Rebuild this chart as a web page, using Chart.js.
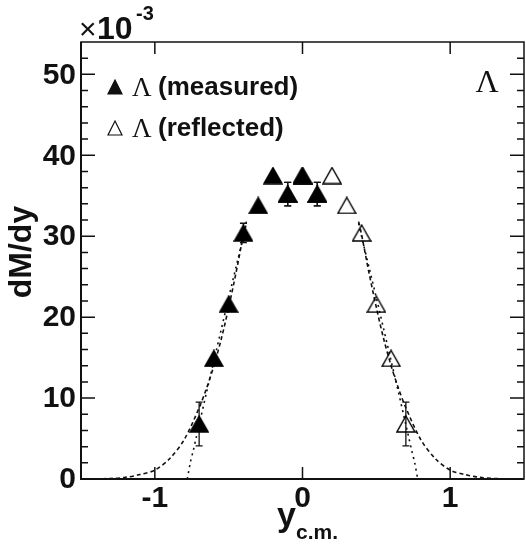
<!DOCTYPE html>
<html>
<head>
<meta charset="utf-8">
<script src="https://cdn.jsdelivr.net/npm/chart.js@4.4.1/dist/chart.umd.min.js"></script>
<style>
  html, body { margin: 0; padding: 0; background: #fff; }
  #wrap { width: 526px; height: 554px; }
</style>
</head>
<body>
<div id="wrap"><canvas id="chart" width="526" height="554"></canvas></div>
<script>
// axis ticks
const xTickLabels = [-1, 0, 1];
const yTickLabels = [0, 10, 20, 30, 40, 50];
const yMinorTicks = [2, 4, 6, 8, 12, 14, 16, 18, 22, 24, 26, 28, 32, 34, 36, 38, 42, 44, 46, 48, 52];

// Lambda rapidity bins (values x 10^-3); errors hidden under a marker are left at 0
const measuredY = [-0.7, -0.6, -0.5, -0.4, -0.3, -0.2, -0.1, 0.0, 0.1];
const measuredVal = [6.8, 14.9, 21.6, 30.4, 33.8, 37.5, 35.2, 37.5, 35.2];
const measuredErr = [2.7, 0, 0, 1.2, 0, 0, 1.45, 0, 1.45];

const reflectedY = [0.7, 0.6, 0.5, 0.4, 0.3, 0.2, 0.1, 0.0, -0.1];
const reflectedVal = [6.8, 14.9, 21.6, 30.4, 33.8, 37.5, 35.2, 37.5, 35.2];
const reflectedErr = [2.7, 0, 0, 0, 0, 0, 1.45, 0, 1.45];

// wide fit (dashed)
const wideLeftX = [-1.5, -1.4, -1.3, -1.2, -1.1, -1.0, -0.9, -0.8, -0.7, -0.65, -0.6, -0.55, -0.5, -0.45, -0.4, -0.38];
const wideLeftV = [0.0, 0.02, 0.06, 0.2, 0.55, 1.1, 2.5, 4.9, 8.8, 11.2, 14.0, 17.3, 21.2, 25.5, 30.2, 31.8];
const wideRightX = [0.38, 0.4, 0.45, 0.5, 0.55, 0.6, 0.65, 0.7, 0.8, 0.9, 1.0, 1.1, 1.2, 1.3, 1.4, 1.5];
const wideRightV = [31.8, 30.2, 25.5, 21.2, 17.3, 14.0, 11.2, 8.8, 4.9, 2.5, 1.1, 0.55, 0.2, 0.06, 0.02, 0.0];

// narrow fit (dotted)
const narrowLeftX = [-0.78, -0.76, -0.74, -0.72, -0.7, -0.65, -0.6, -0.55, -0.5, -0.45, -0.4, -0.38];
const narrowLeftV = [0.0, 2.0, 3.5, 5.1, 6.7, 10.7, 14.6, 18.5, 22.4, 26.2, 30.0, 31.6];
const narrowRightX = [0.38, 0.4, 0.45, 0.5, 0.55, 0.6, 0.65, 0.7, 0.72, 0.74, 0.76, 0.78];
const narrowRightV = [31.6, 30.0, 26.2, 22.4, 18.5, 14.6, 10.7, 6.7, 5.1, 3.5, 2.0, 0.0];

const SANS = '"Liberation Sans", Arial, sans-serif';
const SERIF = '"Liberation Serif", "Times New Roman", serif';

const toPoints = (xs, ys) => xs.map((x, i) => ({ x: x, y: ys[i] }));

// ROOT-like triangle markers, centred on the point
function triangleMarker(filled) {
  const c = document.createElement('canvas');
  c.width = 20; c.height = 18;
  const g = c.getContext('2d');
  g.beginPath();
  g.moveTo(10, 1);
  g.lineTo(19, 17);
  g.lineTo(1, 17);
  g.closePath();
  g.fillStyle = '#000';
  g.strokeStyle = '#000';
  g.lineWidth = 1.4;
  if (filled) g.fill();
  g.stroke();
  return c;
}

const curve = (xs, ys, dash) => ({
  type: 'line',
  data: toPoints(xs, ys),
  borderColor: '#111',
  borderWidth: 1.6,
  borderDash: dash,
  pointRadius: 0,
  fill: false,
  tension: 0.3,
  order: 3
});

// error bars under the markers
const errorBarPlugin = {
  id: 'errorBars',
  beforeDatasetsDraw(chart) {
    const { ctx, scales: { x, y } } = chart;
    ctx.save();
    ctx.strokeStyle = '#111';
    ctx.lineWidth = 1.3;
    const draw = (xs, vs, es) => {
      xs.forEach((xv, i) => {
        if (!es[i]) return;
        const px = x.getPixelForValue(xv);
        const top = y.getPixelForValue(vs[i] + es[i]);
        const bot = y.getPixelForValue(vs[i] - es[i]);
        ctx.beginPath();
        ctx.moveTo(px, top); ctx.lineTo(px, bot);
        ctx.moveTo(px - 3.5, top); ctx.lineTo(px + 3.5, top);
        ctx.moveTo(px - 3.5, bot); ctx.lineTo(px + 3.5, bot);
        ctx.stroke();
      });
    };
    draw(measuredY, measuredVal, measuredErr);
    draw(reflectedY, reflectedVal, reflectedErr);
    ctx.restore();
  }
};

// frame, inward ticks and all the text
const frameAndText = {
  id: 'frameAndText',
  afterDraw(chart) {
    const { ctx, chartArea: a, scales: { x, y } } = chart;
    ctx.save();
    ctx.strokeStyle = '#111';

    // frame
    ctx.lineWidth = 1.5;
    ctx.strokeRect(a.left, a.top, a.right - a.left, a.bottom - a.top);
    ctx.lineWidth = 2;
    ctx.beginPath();
    ctx.moveTo(a.left, a.top); ctx.lineTo(a.left, a.bottom); ctx.lineTo(a.right, a.bottom);
    ctx.stroke();

    // y ticks on both sides
    ctx.lineWidth = 1.5;
    ctx.beginPath();
    yTickLabels.forEach(v => {
      const py = y.getPixelForValue(v);
      ctx.moveTo(a.left, py); ctx.lineTo(a.left + 14, py);
      ctx.moveTo(a.right, py); ctx.lineTo(a.right - 14, py);
    });
    yMinorTicks.forEach(v => {
      const py = y.getPixelForValue(v);
      ctx.moveTo(a.left, py); ctx.lineTo(a.left + 7, py);
      ctx.moveTo(a.right, py); ctx.lineTo(a.right - 7, py);
    });
    // x ticks top and bottom
    xTickLabels.forEach(v => {
      const px = x.getPixelForValue(v);
      ctx.moveTo(px, a.bottom); ctx.lineTo(px, a.bottom - 12);
      ctx.moveTo(px, a.top); ctx.lineTo(px, a.top + 12);
    });
    ctx.stroke();

    ctx.fillStyle = '#111';
    // y tick labels
    ctx.font = 'bold 30px ' + SANS;
    ctx.textAlign = 'right';
    ctx.textBaseline = 'middle';
    yTickLabels.forEach(v => ctx.fillText(String(v), a.left - 5, y.getPixelForValue(v) + 1));
    // x tick labels
    ctx.textAlign = 'center';
    xTickLabels.forEach(v => ctx.fillText(String(v), x.getPixelForValue(v), a.bottom + 20));

    // axis titles
    ctx.save();
    ctx.translate(22, 252);
    ctx.rotate(-Math.PI / 2);
    ctx.font = 'bold 32px ' + SANS;
    ctx.textAlign = 'center';
    ctx.fillText('dM/dy', 0, 0);
    ctx.restore();

    ctx.textAlign = 'left';
    ctx.textBaseline = 'alphabetic';
    ctx.font = 'bold 34px ' + SANS;
    ctx.fillText('y', 277, 526);
    ctx.font = 'bold 21px ' + SANS;
    ctx.fillText('c.m.', 296, 539);

    // exponent
    ctx.font = '30px ' + SANS;
    ctx.fillText('\u00d7', 79, 39);
    ctx.font = 'bold 32px ' + SANS;
    ctx.fillText('10', 97, 39);
    ctx.font = 'bold 20px ' + SANS;
    ctx.fillText('-3', 136, 20);

    // particle label
    ctx.font = '32px ' + SERIF;
    ctx.textAlign = 'center';
    ctx.textBaseline = 'middle';
    ctx.fillText('\u039b', 487, 84);

    // legend
    const tri = (cx, cy, filled) => {
      ctx.beginPath();
      ctx.moveTo(cx, cy - 8);
      ctx.lineTo(cx + 7, cy + 6);
      ctx.lineTo(cx - 7, cy + 6);
      ctx.closePath();
      if (filled) ctx.fill();
      ctx.lineWidth = 1.2;
      ctx.stroke();
    };
    const rows = [
      { y: 88, filled: true, text: '(measured)' },
      { y: 129, filled: false, text: '(reflected)' }
    ];
    rows.forEach(r => {
      tri(115, r.y, r.filled);
      ctx.textAlign = 'left';
      ctx.textBaseline = 'middle';
      ctx.font = '27px ' + SERIF;
      ctx.fillText('\u039b', 132, r.y + 1);
      ctx.font = 'bold 26px ' + SANS;
      ctx.fillText(r.text, 158, r.y);
    });

    ctx.restore();
  }
};

new Chart(document.getElementById('chart'), {
  type: 'scatter',
  data: {
    datasets: [
      {
        label: 'measured',
        data: toPoints(measuredY, measuredVal),
        pointStyle: triangleMarker(true),
        order: 0
      },
      {
        label: 'reflected',
        data: toPoints(reflectedY, reflectedVal),
        pointStyle: triangleMarker(false),
        order: 1
      },
      curve(wideLeftX, wideLeftV, [4, 3]),
      curve(wideRightX, wideRightV, [4, 3]),
      curve(narrowLeftX, narrowLeftV, [2, 4]),
      curve(narrowRightX, narrowRightV, [2, 4])
    ]
  },
  options: {
    responsive: false,
    animation: false,
    layout: { autoPadding: false, padding: { left: 81, right: 2, top: 42, bottom: 75 } },
    scales: {
      x: { type: 'linear', min: -1.5, max: 1.5, display: false },
      y: { type: 'linear', min: 0, max: 54, display: false }
    },
    plugins: {
      legend: { display: false },
      tooltip: { enabled: false }
    }
  },
  plugins: [errorBarPlugin, frameAndText]
});
</script>
</body>
</html>
